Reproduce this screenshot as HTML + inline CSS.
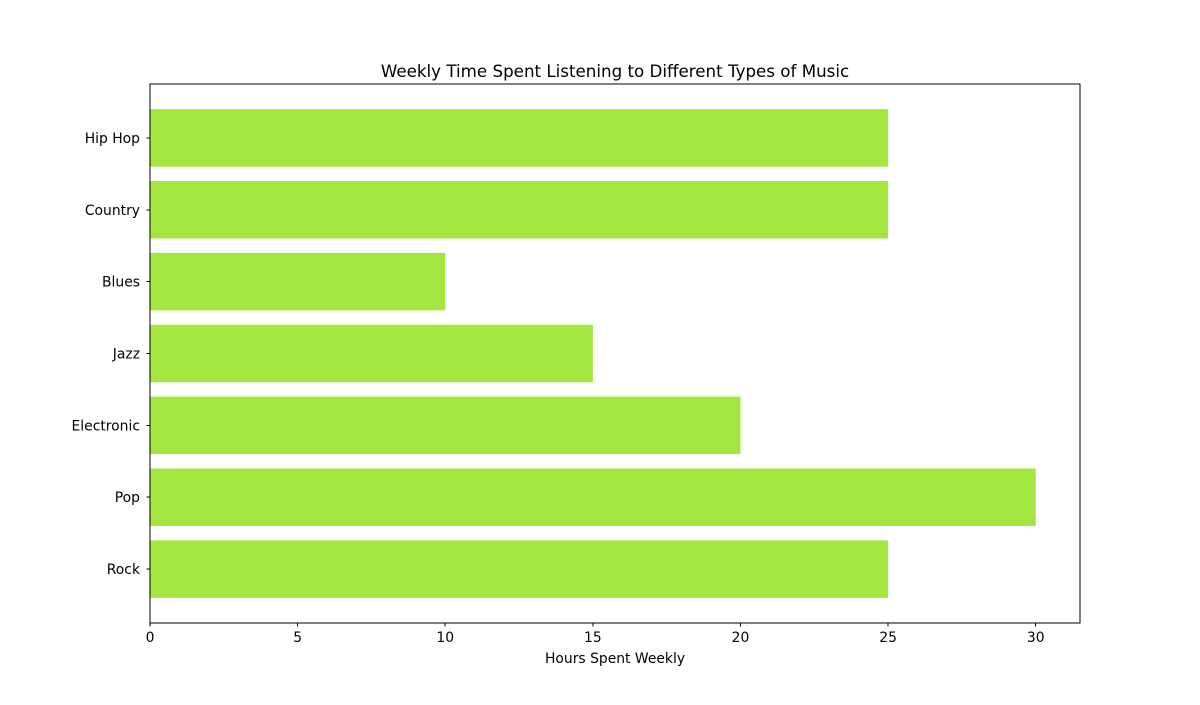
<!DOCTYPE html>
<html><head><meta charset="utf-8"><style>
body{margin:0;background:#fff;}
svg text{font-family:"DejaVu Sans","Liberation Sans",sans-serif;fill:#000;}
</style></head><body>
<svg id="chart" width="1200" height="700" xmlns="http://www.w3.org/2000/svg">
<rect width="1200" height="700" fill="#fff"/>
<text x="615" y="77" font-size="16.7" text-anchor="middle">Weekly Time Spent Listening to Different Types of Music</text>
<g id="bars"></g><g id="axes" shape-rendering="crispEdges"></g>
<text x="615" y="663" font-size="13.9" text-anchor="middle">Hours Spent Weekly</text>
</svg>
<script>
const categories=["Rock","Pop","Electronic","Jazz","Blues","Country","Hip Hop"];
const hours=[25,30,20,15,10,25,25];
const xTicks=[0,5,10,15,20,25,30];
const L=150,R=1080,T=84,B=623,xMax=31.5;
const NS="http://www.w3.org/2000/svg";
const xs=v=>L+v/xMax*(R-L);
function mk(tag,attrs,parent){const e=document.createElementNS(NS,tag);for(const k in attrs)e.setAttribute(k,attrs[k]);parent.appendChild(e);return e;}
const gb=document.getElementById('bars'),ga=document.getElementById('axes');
const scale=(B-T)/(categories.length-1+1.5);
const yPos=i=>B-(i+0.75)*scale;
categories.forEach((c,i)=>{
  const r=mk('rect',{x:xs(0),y:yPos(i)-0.4*scale,width:xs(hours[i])-xs(0),height:0.8*scale,fill:'#a2e63f'},gb);
  
  
  mk('line',{x1:L-3.5,x2:L,y1:yPos(i),y2:yPos(i),stroke:'#000','stroke-width':1},ga);
  const t=mk('text',{x:L-10,y:yPos(i)+5,'font-size':13.9,'text-anchor':'end'},ga);
  t.textContent=c;
  
  
});
xTicks.forEach(v=>{
  mk('line',{x1:xs(v),x2:xs(v),y1:B,y2:B+3.5,stroke:'#000','stroke-width':1},ga);
  const t=mk('text',{x:xs(v),y:B+19,'font-size':13.9,'text-anchor':'middle'},ga);
  t.textContent=v;
  
  
});
const f=mk('rect',{x:L,y:T,width:R-L,height:B-T,fill:'none',stroke:'#000','stroke-width':1},ga);


</script>
</body></html>
